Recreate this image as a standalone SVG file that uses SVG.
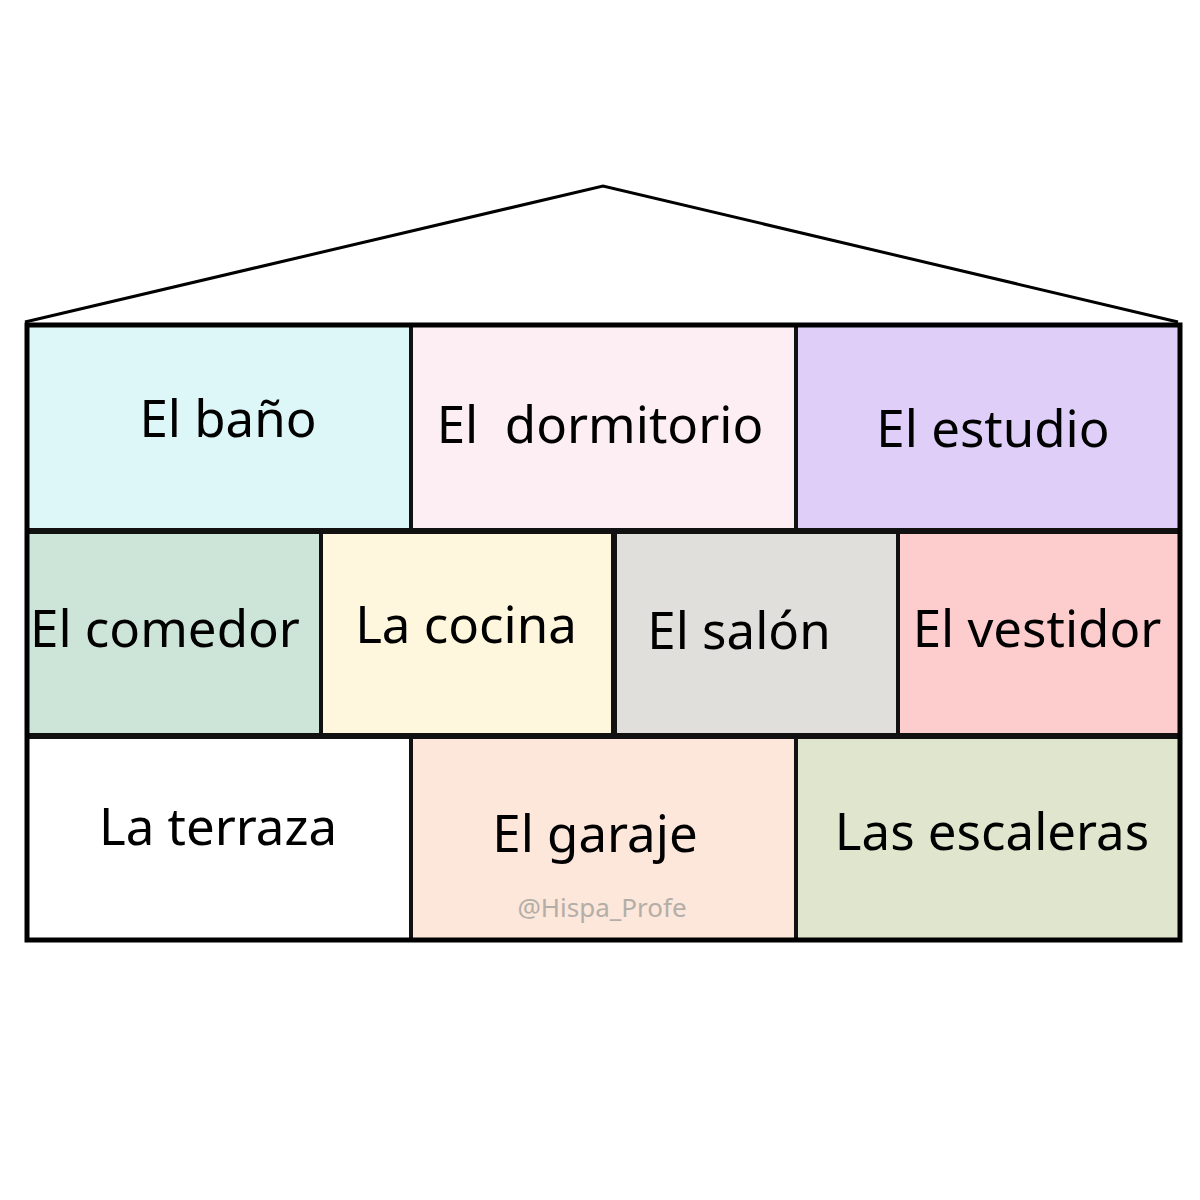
<svg xmlns="http://www.w3.org/2000/svg" width="1200" height="1200" viewBox="0 0 1200 1200">
<style>
.room{stroke:#111;stroke-width:4}
.lbl{font-family:"Noto Sans","Open Sans",sans-serif;font-size:51px;fill:#000;text-anchor:middle}
.wm{font-family:"Noto Sans","Open Sans",sans-serif;font-size:26px;fill:#b3aea8;text-anchor:middle}
</style>
<rect width="1200" height="1200" fill="#fff"/>
<g id="roof"><polyline points="25,322 603,186 1178,322" fill="none" stroke="#000" stroke-width="3"/></g>
<g id="bano"><rect class="room" x="27" y="325" width="384" height="205" fill="#DDF6F7"/><text class="lbl" x="228" y="437">El baño</text></g>
<g id="dormitorio"><rect class="room" x="411" y="325" width="385" height="205" fill="#FDEEF3"/><text class="lbl" x="600" y="443" xml:space="preserve">El  dormitorio</text></g>
<g id="estudio"><rect class="room" x="796" y="325" width="384" height="205" fill="#DFCEF7"/><text class="lbl" x="993" y="447">El estudio</text></g>
<g id="comedor"><rect class="room" x="27" y="532" width="294" height="203" fill="#CDE5D8"/><text class="lbl" x="165" y="647">El comedor</text></g>
<g id="cocina"><rect class="room" x="321" y="532" width="292" height="203" fill="#FEF7DE"/><text class="lbl" x="466" y="643">La cocina</text></g>
<g id="salon"><rect class="room" x="615" y="532" width="283" height="203" fill="#E0DFDC"/><text class="lbl" x="739" y="649">El salón</text></g>
<g id="vestidor"><rect class="room" x="898" y="532" width="282" height="203" fill="#FDCDCE" stroke="#2a0505"/><text class="lbl" x="1037" y="647">El vestidor</text></g>
<g id="terraza"><rect class="room" x="27" y="737" width="384" height="203" fill="#FFFFFF"/><text class="lbl" x="218" y="845">La terraza</text></g>
<g id="garaje"><rect class="room" x="411" y="737" width="385" height="203" fill="#FDE6DA"/><text class="lbl" x="595" y="852">El garaje</text><text class="wm" x="602" y="917">@Hispa_Profe</text></g>
<g id="escaleras"><rect class="room" x="796" y="737" width="384" height="203" fill="#E0E6CD"/><text class="lbl" x="992" y="850">Las escaleras</text></g>
<g id="outline"><rect x="27" y="325" width="1153" height="615" fill="none" stroke="#000" stroke-width="5"/></g>
</svg>
